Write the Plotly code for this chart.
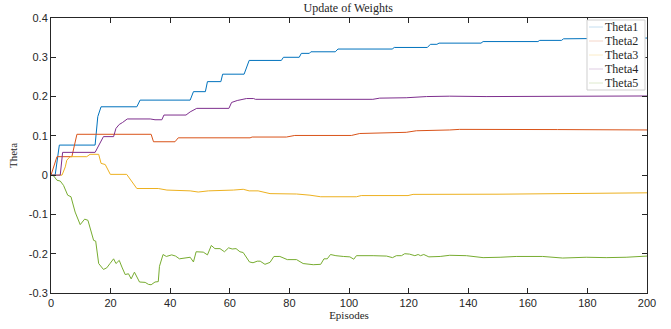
import plotly.graph_objects as go

# ---- data ----
x_ticks = [0, 20, 40, 60, 80, 100, 120, 140, 160, 180, 200]
y_ticks = [-0.3, -0.2, -0.1, 0, 0.1, 0.2, 0.3, 0.4]
y_tick_labels = ["-0.3", "-0.2", "-0.1", "0", "0.1", "0.2", "0.3", "0.4"]
series_names = ["Theta1", "Theta2", "Theta3", "Theta4", "Theta5"]

theta1_ep = [0, 1.4, 2.8, 14.8, 15.7, 16.8, 28.8, 29.9, 46.7, 47.8, 51.8, 52.5, 57.0, 57.6,
             64.8, 66.5, 77.3, 78.0, 83.3, 84.0, 86.7, 87.2, 95.4, 96.3, 114.5, 115.2,
             126.3, 127.3, 129.5, 130.2, 144.3, 145.0, 163.4, 164.0, 171.3, 172.0, 200]
theta1_val = [0, 0, 0.0765, 0.0765, 0.149, 0.174, 0.174, 0.191, 0.191, 0.2125, 0.2125, 0.238,
              0.238, 0.257, 0.257, 0.292, 0.292, 0.300, 0.300, 0.310, 0.310, 0.314, 0.314,
              0.321, 0.321, 0.325, 0.325, 0.333, 0.333, 0.336, 0.336, 0.340, 0.340, 0.343,
              0.343, 0.347, 0.349]

theta2_ep = [0, 2.0, 7.0, 8.7, 33.6, 34.4, 41.6, 42.7, 66.8, 67.5, 79.0, 81.8, 100.8, 103.6,
             119.2, 122.6, 133.8, 137.1, 170, 200]
theta2_val = [0, 0.047, 0.047, 0.104, 0.104, 0.085, 0.085, 0.095, 0.095, 0.097, 0.097, 0.101,
              0.101, 0.106, 0.109, 0.113, 0.115, 0.1165, 0.116, 0.115]

theta3_ep = [0, 3.7, 4.8, 5.3, 6.4, 12.0, 13.1, 16.0, 16.8, 18.2, 19.9, 25.4, 28.8, 36.0, 38.9,
             46.7, 49.4, 52.8, 61.2, 64.5, 66.5, 69.5, 73.5, 82.4, 86.9, 90.5, 102.5, 104.1,
             119.8, 121.5, 150, 166.1, 200]
theta3_val = [0, 0, 0.021, 0.038, 0.047, 0.047, 0.053, 0.053, 0.030, 0.027, 0.002, 0.002, -0.034,
              -0.034, -0.038, -0.040, -0.043, -0.040, -0.038, -0.036, -0.040, -0.040, -0.047,
              -0.048, -0.051, -0.055, -0.055, -0.052, -0.052, -0.049, -0.0485, -0.047, -0.045]

theta4_ep = [0, 3.1, 3.9, 14.8, 17.6, 21.0, 21.8, 22.9, 24.0, 25.6, 33.3, 34.9, 37.2, 37.9,
             45.3, 46.7, 48.9, 59.7, 60.6, 62.5, 65.6, 68.0, 68.6, 108.0, 110.3, 119.2, 126.0,
             133.8, 146, 200]
theta4_val = [0, 0, 0.058, 0.058, 0.098, 0.098, 0.119, 0.129, 0.134, 0.143, 0.143, 0.141, 0.141,
              0.153, 0.153, 0.161, 0.170, 0.170, 0.185, 0.190, 0.195, 0.195, 0.193, 0.193,
              0.196, 0.197, 0.200, 0.201, 0.200, 0.2015]

theta5_ep = [0, 0.9, 2.0, 3.1, 4.2, 5.6, 6.7, 8.1, 9.8, 11.3, 12.4, 13.5, 14.3, 15.0, 16.0, 17.6,
             18.7, 19.8, 21.0, 21.8, 22.9, 23.8, 24.9, 26.0, 26.9, 28.0, 29.7, 31.6, 32.7, 33.6,
             34.9, 36.0, 36.4, 37.6, 38.7, 40.5, 41.8, 43.1, 45.0, 46.7, 47.8, 48.7, 51.1, 52.5,
             53.8, 55.0, 56.7, 58.2, 59.6, 60.8, 62.1, 63.4, 64.5, 66.6, 67.8, 69.2, 70.2, 71.8,
             73.5, 74.8, 76.8, 77.9, 79.3, 82.4, 84.6, 88.0, 90.5, 91.6, 92.7, 93.8, 95.6, 98.1,
             100.3, 101.6, 102.5, 108.1, 112.6, 114.6, 115.9, 117.6, 118.7, 120.3, 122.1, 123.2,
             124.0, 125.1, 126.8, 130.6, 133.8, 139.4, 145.0, 150.7, 156.1, 165.0, 171.7, 179.6,
             186.3, 193.0, 200]
theta5_val = [0, -0.002, -0.013, -0.015, -0.026, -0.051, -0.055, -0.094, -0.126, -0.112, -0.115,
              -0.145, -0.166, -0.168, -0.225, -0.240, -0.236, -0.225, -0.213, -0.225, -0.217,
              -0.234, -0.253, -0.251, -0.264, -0.247, -0.272, -0.273, -0.278, -0.279, -0.272,
              -0.271, -0.232, -0.202, -0.207, -0.203, -0.206, -0.213, -0.211, -0.209, -0.221,
              -0.195, -0.196, -0.203, -0.179, -0.187, -0.187, -0.195, -0.185, -0.188, -0.187,
              -0.195, -0.197, -0.221, -0.223, -0.219, -0.219, -0.227, -0.222, -0.207, -0.207,
              -0.210, -0.215, -0.215, -0.225, -0.228, -0.227, -0.213, -0.213, -0.202, -0.205,
              -0.207, -0.208, -0.214, -0.205, -0.205, -0.206, -0.210, -0.205, -0.205, -0.200,
              -0.201, -0.205, -0.202, -0.205, -0.202, -0.208, -0.207, -0.204, -0.205, -0.210,
              -0.209, -0.207, -0.207, -0.211, -0.209, -0.210, -0.209, -0.206]

colors = ["#0072BD", "#D95319", "#EDB120", "#7E2F8E", "#77AC30"]
pale_colors = ["#c4def0", "#f5d6c9", "#fbecc8", "#dfcde3", "#deeacd"]

# ---- figure ----
W, H = 671, 329
ML, MR, MT, MB = 51, 24, 18, 36
SERIF = "Liberation Serif, Times New Roman, serif"
SANS = "Liberation Sans, Arial, sans-serif"
INK = "#262626"

eps = [theta1_ep, theta2_ep, theta3_ep, theta4_ep, theta5_ep]
vals = [theta1_val, theta2_val, theta3_val, theta4_val, theta5_val]

fig = go.Figure()
for name, xs, ys, c in zip(series_names, eps, vals, colors):
    fig.add_trace(go.Scatter(x=xs, y=ys, mode="lines", name=name,
                             line=dict(color=c, width=1), showlegend=False,
                             hoverinfo="skip"))

axis_common = dict(showline=True, linecolor=INK, linewidth=1, mirror="ticks",
                   ticks="inside", ticklen=5, tickcolor=INK, showgrid=False,
                   zeroline=False, automargin=False,
                   tickfont=dict(family=SANS, size=11, color=INK))

# compact MATLAB-style legend drawn in paper coordinates
pw, ph = W - ML - MR, H - MT - MB
def px2paper(px, py):
    return (px - ML) / pw, (H - MB - py) / ph

shapes, annotations = [], []
bx0, by0 = px2paper(587, 20)
bx1, by1 = px2paper(645, 90)
shapes.append(dict(type="rect", xref="paper", yref="paper", x0=bx0, y0=by1, x1=bx1, y1=by0,
                   fillcolor="white", line=dict(color="#cfcfcf", width=1), layer="above"))
for i, (name, pc) in enumerate(zip(series_names, pale_colors)):
    cy = 27 + i * 14
    lx0, ly = px2paper(589, cy)
    lx1, _ = px2paper(603, cy)
    shapes.append(dict(type="line", xref="paper", yref="paper", x0=lx0, x1=lx1, y0=ly, y1=ly,
                       line=dict(color=pc, width=1), layer="above"))
    tx, _ = px2paper(603, cy)
    annotations.append(dict(text=name, xref="paper", yref="paper", x=tx, y=ly,
                            xanchor="left", yanchor="middle", showarrow=False,
                            font=dict(family=SERIF, size=12, color=INK)))

fig.update_layout(
    width=W, height=H,
    margin=dict(l=ML, r=MR, t=MT, b=MB),
    paper_bgcolor="white", plot_bgcolor="white",
    showlegend=False,
    hovermode=False,
    title=dict(text="Update of Weights", x=0.519, xanchor="center", y=0.977, yanchor="middle",
               font=dict(family=SERIF, size=12, color=INK)),
    xaxis=dict(range=[0, 200], tickvals=x_ticks,
               title=dict(text="Episodes", standoff=3,
                          font=dict(family=SERIF, size=11, color=INK)),
               **axis_common),
    yaxis=dict(range=[-0.3, 0.4], tickvals=y_ticks, ticktext=y_tick_labels,
               title=dict(text="Theta", standoff=8,
                          font=dict(family=SERIF, size=11, color=INK)),
               **axis_common),
    shapes=shapes,
    annotations=annotations,
)

fig.write_html("out.html", config={"displayModeBar": False},
               post_script="document.body.style.margin='0px';")
